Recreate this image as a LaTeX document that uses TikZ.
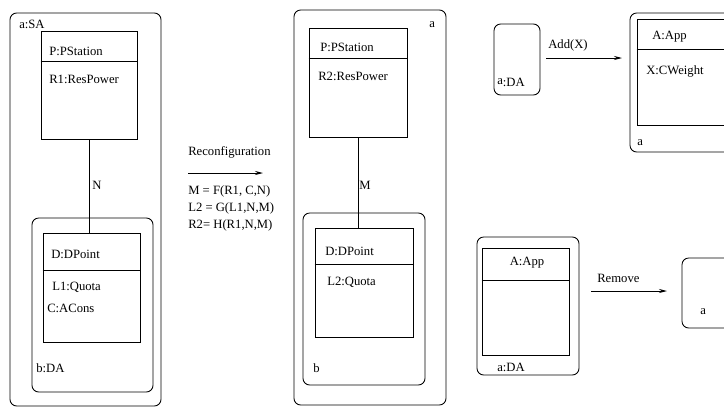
\documentclass[tikz,border=0pt]{standalone}
\usepackage{fontspec}
\setmainfont{Liberation Serif}
\usetikzlibrary{arrows.meta,fit}
\begin{document}
\begin{tikzpicture}[x=0.75pt,y=-0.75pt,
  lbl/.style={anchor=west,inner sep=0pt,font=\fontsize{9.5}{11}\selectfont},
  rbox/.style={draw,rounded corners=5pt,inner sep=0pt,line width=0.65pt},
  sbox/.style={draw,inner sep=0pt,line width=0.65pt},
  conn/.style={line width=0.65pt},
  arr/.style={line width=0.65pt,-{Stealth[length=6pt,width=3pt]}}]
\useasboundingbox (0,0) rectangle (724,408);
\clip (0,0) rectangle (724,408);

% ---------- left configuration ----------
\node[rbox,fit={(10,13)(161,406)}] (sa) {};
\node[lbl] (saL) at (19,24) {a:SA};
\node[sbox,fit={(41,31)(137,139)}] (ps1) {};
\draw[conn] (ps1.west |- 0,61) -- (ps1.east |- 0,61);
\node[lbl] (ps1t) at (49,51) {P:PStation};
\node[lbl] (ps1r) at (49,79) {R1:ResPower};
\node[rbox,fit={(32,218)(153,392)}] (da1) {};
\node[sbox,fit={(43,233)(140,342)}] (dp1) {};
\draw[conn] (dp1.west |- 0,270) -- (dp1.east |- 0,270);
\node[lbl] (dp1t) at (51,254) {D:DPoint};
\node[lbl] (dp1q) at (52,287) {L1:Quota};
\node[lbl] (dp1c) at (47,308) {C:ACons};
\node[lbl] (da1L) at (36,368) {b:DA};
\draw[conn] (ps1.south) -- (ps1.south |- dp1.north);
\node[lbl] (nL) at (92,185) {N};

% ---------- reconfiguration arrow ----------
\node[lbl] (recL) at (188,152) {Reconfiguration};
\coordinate (r1) at (188,173);
\coordinate (r2) at (263,173);
\draw[arr] (r1) -- (r2);
\node[lbl] (f1) at (188,191) {M = F(R1, C,N)};
\node[lbl] (f2) at (188,208) {L2 = G(L1,N,M)};
\node[lbl] (f3) at (188,225) {R2= H(R1,N,M)};

% ---------- middle configuration ----------
\node[rbox,fit={(294,10)(446,405)}] (a2) {};
\node[lbl] (a2L) at (429,25) {a};
\node[sbox,fit={(309,28)(407,137)}] (ps2) {};
\draw[conn] (ps2.west |- 0,58) -- (ps2.east |- 0,58);
\node[lbl] (ps2t) at (320,47) {P:PStation};
\node[lbl] (ps2r) at (318,76) {R2:ResPower};
\node[rbox,fit={(303,213)(425,385)}] (b2) {};
\node[sbox,fit={(315,228)(413,337)}] (dp2) {};
\draw[conn] (dp2.west |- 0,264) -- (dp2.east |- 0,264);
\node[lbl] (dp2t) at (325,251) {D:DPoint};
\node[lbl] (dp2q) at (327,282) {L2:Quota};
\node[lbl] (b2L) at (313,368) {b};
\draw[conn] (ps2.south) -- (ps2.south |- dp2.north);
\node[lbl] (mL) at (359,185) {M};

% ---------- Add(X) ----------
\node[rbox,fit={(494,24)(540,95)}] (da3) {};
\node[lbl] (da3L) at (497,82) {\raisebox{1.5pt}{a}:DA};
\node[lbl] (addL) at (548,45) {Add(X)};
\coordinate (ad1) at (546,58);
\coordinate (ad2) at (622,58);
\draw[arr] (ad1) -- (ad2);
\node[rbox,fit={(630,13)(745,152)}] (a4) {};
\node[sbox,fit={(637,19)(735,125)}] (app4) {};
\draw[conn] (app4.west |- 0,49) -- (app4.east |- 0,49);
\node[lbl] (app4t) at (652,37) {A:App};
\node[lbl] (app4x) at (646,71) {X:CWeight};
\node[lbl] (a4L) at (637,143) {a};

% ---------- Remove ----------
\node[rbox,fit={(477,237)(579,375)}] (da5) {};
\node[sbox,fit={(482,248)(569,355)}] (app5) {};
\draw[conn] (app5.west |- 0,280) -- (app5.east |- 0,280);
\node[lbl,anchor=center] (app5t) at (527,263) {A:App};
\node[lbl] (da5L) at (497,367) {a:DA};
\node[lbl] (remL) at (597,278) {Remove};
\coordinate (rm1) at (591,291);
\coordinate (rm2) at (667,291);
\draw[arr] (rm1) -- (rm2);
\node[rbox,fit={(682,258)(745,328)}] (a6) {};
\node[lbl] (a6L) at (700,312) {a};
\end{tikzpicture}
\end{document}
